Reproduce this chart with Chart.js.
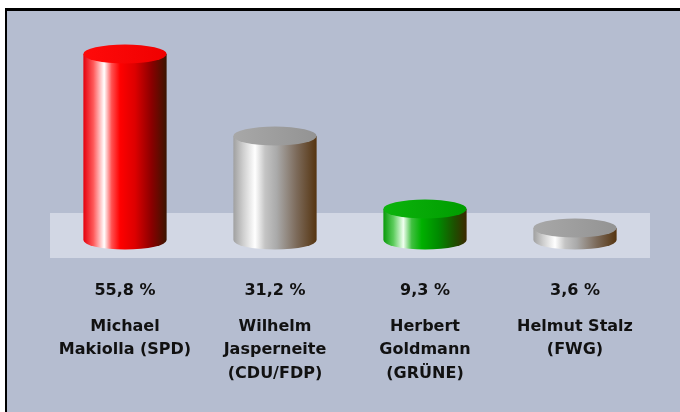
<!DOCTYPE html>
<html>
<head>
<meta charset="utf-8">
<script src="https://cdn.jsdelivr.net/npm/chart.js@4"></script>
<style>
  html, body { margin: 0; padding: 0; background: #fff; overflow: hidden; }
  #box { position: absolute; left: 0; top: 0; width: 680px; height: 412px; }
</style>
</head>
<body>
<div id="box"><canvas id="myChart"></canvas></div>
<script>
// election result, one bar per candidate
const candidates = [
  ['Michael', 'Makiolla (SPD)'],
  ['Wilhelm', 'Jasperneite', '(CDU/FDP)'],
  ['Herbert', 'Goldmann', '(GRÜNE)'],
  ['Helmut Stalz', '(FWG)']
];
const shares = [55.8, 31.2, 9.3, 3.6];
const shareLabels = ['55,8 %', '31,2 %', '9,3 %', '3,6 %'];

// cylinder colours: body gradient stops, top gradient (left, right)
const bodyStops = [
  [[0, '#e4000c'], [0.12, '#ff5a5a'], [0.25, '#ffffff'], [0.34, '#ff5050'], [0.44, '#ff0000'], [0.62, '#dd0000'], [0.82, '#8a0000'], [1, '#3a1500']],
  [[0, '#a0a0a0'], [0.12, '#cfcfcf'], [0.26, '#ffffff'], [0.38, '#c4c4c4'], [0.52, '#aaaaaa'], [0.76, '#7c6a5a'], [1, '#553410']],
  [[0, '#0a9a0a'], [0.12, '#5ccc5c'], [0.24, '#f0fff0'], [0.34, '#40c040'], [0.46, '#00b000'], [0.66, '#008a00'], [0.86, '#1e4e00'], [1, '#3c2800']],
  [[0, '#a0a0a0'], [0.12, '#cfcfcf'], [0.26, '#ffffff'], [0.38, '#c4c4c4'], [0.52, '#aaaaaa'], [0.76, '#7c6a5a'], [1, '#553410']]
];
const topColors = [['#ff0a0a', '#f00000'], ['#a8a8a8', '#939393'], ['#0cb40c', '#009c00'], ['#a8a8a8', '#939393']];

const FONT = 'DejaVu Sans';

// white margin, black top/left border, blue-grey background, pale floor band
const backdrop = {
  id: 'backdrop',
  beforeDraw(chart) {
    const c = chart.ctx, a = chart.chartArea;
    c.save();
    c.fillStyle = '#ffffff';
    c.fillRect(0, 0, chart.width, chart.height);
    c.fillStyle = '#000000';
    c.fillRect(5, 8, chart.width - 5, 3);
    c.fillRect(5, 8, 2, chart.height - 8);
    c.fillStyle = '#b5bdd0';
    c.fillRect(7, 11, chart.width - 7, chart.height - 11);
    c.fillStyle = '#d2d7e4';
    c.fillRect(a.left, a.bottom - 27, a.right - a.left, 45);
    c.restore();
  }
};

// draw each bar as a shaded cylinder + percentage text under it
const cylinders = {
  id: 'cylinders',
  afterDatasetsDraw(chart) {
    const c = chart.ctx, a = chart.chartArea;
    const meta = chart.getDatasetMeta(0);
    meta.data.forEach((bar, i) => {
      const rx = bar.width / 2, ry = 9.5;
      const x = bar.x, top = bar.y, base = bar.base;
      c.save();
      const g = c.createLinearGradient(x - rx, 0, x + rx, 0);
      bodyStops[i].forEach(s => g.addColorStop(s[0], s[1]));
      c.beginPath();
      c.moveTo(x - rx, top);
      c.lineTo(x - rx, base);
      c.ellipse(x, base, rx, ry, 0, Math.PI, 0, true);
      c.lineTo(x + rx, top);
      c.closePath();
      c.fillStyle = g;
      c.fill();
      const t = c.createLinearGradient(x - rx, 0, x + rx, 0);
      t.addColorStop(0, topColors[i][0]);
      t.addColorStop(1, topColors[i][1]);
      c.beginPath();
      c.ellipse(x, top, rx, ry, 0, 0, Math.PI * 2);
      c.fillStyle = t;
      c.fill();
      c.fillStyle = '#111111';
      c.font = 'bold 16px "' + FONT + '"';
      c.textAlign = 'center';
      c.textBaseline = 'middle';
      c.fillText(shareLabels[i], x, a.bottom + 51);
      c.restore();
    });
  }
};

const ctx = document.getElementById('myChart');

new Chart(ctx, {
  type: 'bar',
  data: {
    labels: candidates,
    datasets: [{
      data: shares,
      backgroundColor: 'rgba(0,0,0,0)',
      borderWidth: 0,
      categoryPercentage: 1,
      barPercentage: 0.555
    }]
  },
  options: {
    responsive: true,
    maintainAspectRatio: false,
    animation: false,
    layout: { padding: { left: 50, right: 30, top: 40, bottom: 26 } },
    plugins: { legend: { display: false }, tooltip: { enabled: false } },
    scales: {
      x: {
        grid: { display: false, drawTicks: false },
        border: { display: false },
        ticks: {
          color: '#111111',
          padding: 75,
          maxRotation: 0,
          autoSkip: false,
          font: { family: FONT, size: 16, weight: 'bold', lineHeight: 1.47 }
        },
        afterFit(scale) {
          scale.height = 146;
          scale.paddingLeft = 0;
          scale.paddingRight = 0;
        }
      },
      y: {
        display: false,
        min: 0,
        max: 60
      }
    }
  },
  plugins: [backdrop, cylinders]
});
</script>
</body>
</html>
